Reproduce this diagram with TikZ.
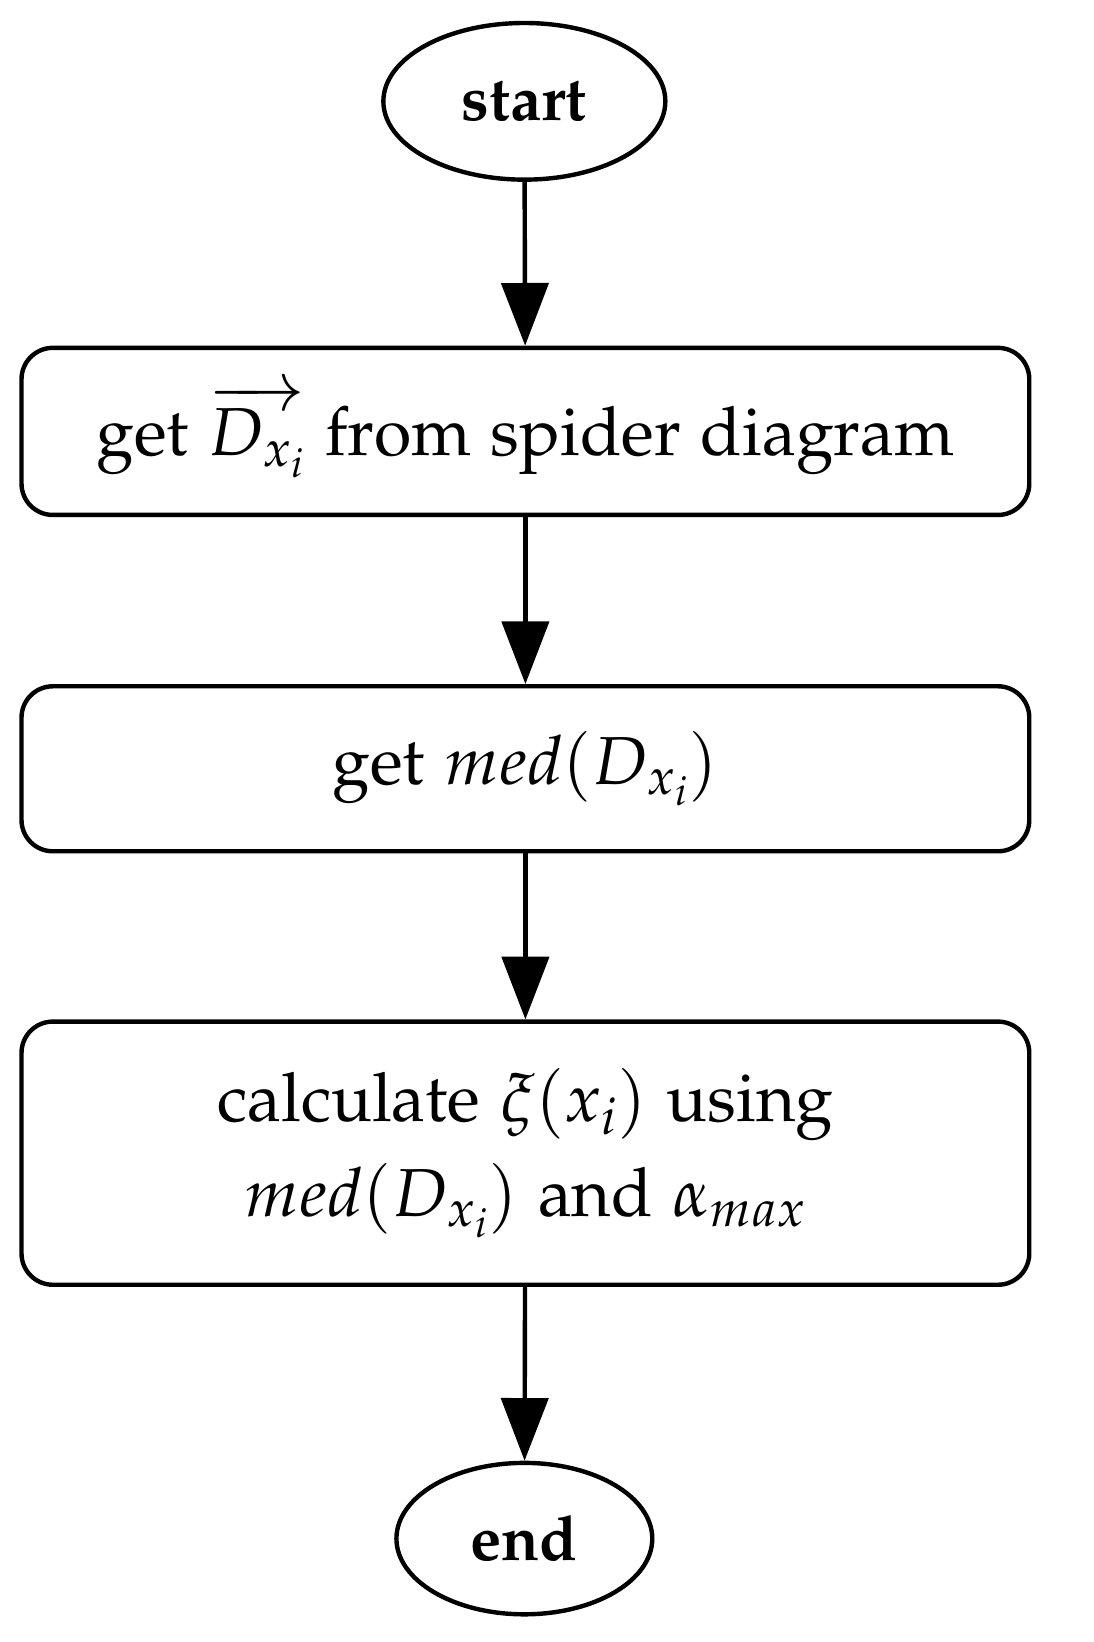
\documentclass[tikz,border=0pt]{standalone}
\usepackage[T1]{fontenc}
\usepackage{mathpazo}
\renewcommand\rmdefault{pplx}
\usetikzlibrary{shapes.geometric,arrows.meta}
\begin{document}
\begin{tikzpicture}[x=0.02cm,y=-0.02cm,
  every node/.style={font=\fontfamily{pplx}\fontsize{37}{52}\selectfont},
  term/.style={ellipse,draw,line width=2.4pt,minimum width=5.4cm,minimum height=3cm,font=\fontfamily{pplx}\fontsize{34}{40}\selectfont\bfseries},
  box/.style={draw,line width=2.4pt,rounded corners=0.6cm,minimum width=19.3cm,align=center},
  arr/.style={line width=2.4pt,-{Triangle[width=0.9cm,length=1.2cm]}}]
\useasboundingbox (0,0) rectangle (1047,1572);
\node[term] (s) at (502,97) {start};
\node[box,minimum height=3.2cm] (b1) at (503,413) {get $\overrightarrow{D_{x_i}}$ from spider diagram};
\node[box,minimum height=3.16cm] (b2) at (503,736) {get $med(D_{x_i})$};
\node[box,minimum height=5.04cm] (b3) at (503,1104) {calculate $\xi(x_i)$ using\\ $med(D_{x_i})$ and $\alpha_{max}$};
\node[term,minimum width=4.9cm,minimum height=2.9cm] (e) at (502,1473) {end};
\draw[arr] (s) -- (b1);
\draw[arr] (b1) -- (b2);
\draw[arr] (b2) -- (b3);
\draw[arr] (b3) -- (e);
\end{tikzpicture}
\end{document}
